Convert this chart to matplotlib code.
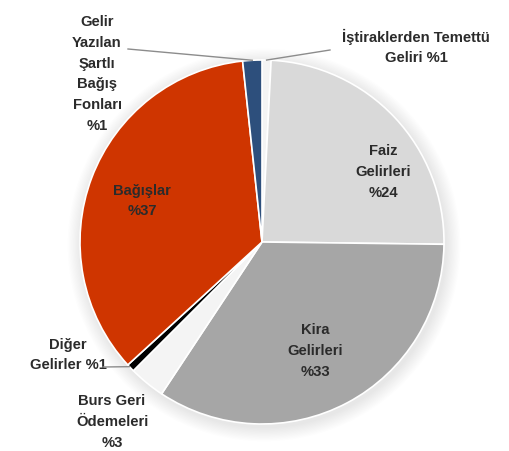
import numpy as np
import matplotlib.pyplot as plt
from matplotlib.patches import Circle

# income shares (%), clockwise from 12 o'clock
names = ['İştiraklerden Temettü Geliri', 'Faiz Gelirleri', 'Kira Gelirleri',
         'Burs Geri Ödemeleri', 'Diğer Gelirler', 'Bağışlar',
         'Gelir Yazılan Şartlı Bağış Fonları']
shares = [0.8, 24.4, 34.1, 3.2, 0.7, 35.1, 1.7]
labels = ['İştiraklerden Temettü\nGeliri %1', 'Faiz\nGelirleri\n%24', 'Kira\nGelirleri\n%33',
          'Burs Geri\nÖdemeleri\n%3', 'Diğer\nGelirler %1', 'Bağışlar\n%37',
          'Gelir\nYazılan\nŞartlı\nBağış\nFonları\n%1']
colors = ['#f4f4f4', '#d9d9d9', '#a6a6a6', '#f4f4f4', '#000000', '#cf3500', '#2d4f7c']

W, H = 509, 452
fig = plt.figure(figsize=(W / 100, H / 100), dpi=100)
ax = fig.add_axes([0, 0, 1, 1])

cx, cy, r = 262, H - 243, 182

# soft shadow
for k in range(12, 0, -1):
    ax.add_patch(Circle((cx + 2, cy - 3), r + k * 1.2, color='#000000',
                        alpha=0.009, lw=0, zorder=0))

wedges, _ = ax.pie(shares, colors=colors, startangle=90, counterclock=False,
                   center=(cx, cy), radius=r,
                   wedgeprops=dict(edgecolor='white', linewidth=1.2))

ax.set_xlim(0, W)
ax.set_ylim(0, H)
ax.set_aspect('equal')
ax.axis('off')

font = dict(family='Liberation Sans', fontweight='bold', fontsize=10.6,
            color='#2b2b2b', ha='center', va='center', linespacing=1.6)

# label positions in pixel coords (x, y from top)
pos = [(416, 47), (383, 172), (315, 351), (112, 422), (68, 355), (142, 201), (97, 74)]
for lab, (x, y) in zip(labels, pos):
    ax.text(x, H - y, lab, **font)


def edge(w, frac=0.5):
    a = np.radians(w.theta1 + (w.theta2 - w.theta1) * frac)
    return cx + r * np.cos(a), cy + r * np.sin(a)


# leader lines for the thin slices
lc = dict(color='#8c8c8c', lw=1.0, zorder=5)
ex, ey = edge(wedges[0])
ax.plot([330, ex], [H - 51, ey], **lc)
ex, ey = edge(wedges[6])
ax.plot([128, ex], [H - 50, ey], **lc)
ex, ey = edge(wedges[4], 0.3)
ax.plot([103, ex], [H - 368, ey], **lc)

fig.savefig('out.png', dpi=100)
